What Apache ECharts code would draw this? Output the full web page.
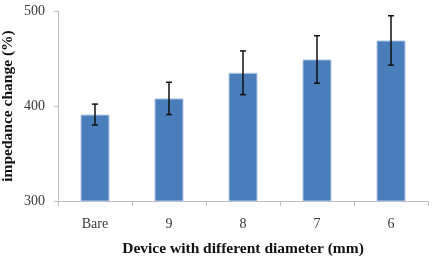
<!DOCTYPE html>
<html>
<head>
<meta charset="utf-8">
<script src="https://cdn.jsdelivr.net/npm/echarts@6/dist/echarts.min.js"></script>
<style>
  html, body { margin: 0; padding: 0; background: #fff; }
  #chart { width: 439px; height: 260px; }
</style>
</head>
<body>
<div id="chart"></div>
<script>
const categories = ['Bare', '9', '8', '7', '6']
const means = [391, 408, 435, 449, 469]
const errors = [11, 17, 23, 25, 26]
const yTicks = { min: 300, max: 500, interval: 100 }

const serif = '"Liberation Serif", "Times New Roman", serif'

const errData = categories.map((c, i) => [i, means[i] - errors[i], means[i] + errors[i]])

const chart = echarts.init(document.getElementById('chart'))
chart.setOption({
  animation: false,
  grid: { left: 58, right: 11, top: 11, bottom: 59, outerBoundsMode: 'none', containLabel: false },
  xAxis: {
    type: 'category',
    data: categories,
    name: 'Device with different diameter (mm)',
    nameLocation: 'middle',
    nameGap: 40,
    nameMoveOverlap: false,
    nameTextStyle: { fontFamily: serif, fontSize: 15.5, fontWeight: 'bold', color: '#111' },
    axisLine: { lineStyle: { color: '#bfbfbf' } },
    axisTick: { show: true, length: 5, lineStyle: { color: '#bfbfbf' } },
    axisLabel: { fontFamily: serif, fontSize: 14, color: '#3a3a3a', margin: 16 }
  },
  yAxis: {
    type: 'value',
    min: yTicks.min,
    max: yTicks.max,
    interval: yTicks.interval,
    name: 'impedance change (%)',
    nameLocation: 'middle',
    nameGap: 42,
    nameMoveOverlap: false,
    nameTextStyle: { fontFamily: serif, fontSize: 15.5, fontWeight: 'bold', color: '#111' },
    axisLine: { show: true, lineStyle: { color: '#bfbfbf' } },
    axisTick: { show: true, length: 4, lineStyle: { color: '#bfbfbf' } },
    splitLine: { show: false },
    axisLabel: { fontFamily: serif, fontSize: 14, color: '#3a3a3a', margin: 13 }
  },
  series: [
    {
      type: 'bar',
      data: means,
      barWidth: 29,
      itemStyle: { color: '#4a7ebb', borderColor: '#b4cae6', borderWidth: 1 }
    },
    {
      type: 'custom',
      data: errData,
      z: 10,
      renderItem: function (params, api) {
        const x = api.value(0)
        const lo = api.coord([x, api.value(1)])
        const hi = api.coord([x, api.value(2)])
        const cap = 3
        const style = { stroke: '#111', lineWidth: 1.5 }
        return {
          type: 'group',
          children: [
            { type: 'line', shape: { x1: lo[0], y1: lo[1], x2: hi[0], y2: hi[1] }, style },
            { type: 'line', shape: { x1: hi[0] - cap, y1: hi[1], x2: hi[0] + cap, y2: hi[1] }, style },
            { type: 'line', shape: { x1: lo[0] - cap, y1: lo[1], x2: lo[0] + cap, y2: lo[1] }, style }
          ]
        }
      }
    }
  ]
})
</script>
</body>
</html>
